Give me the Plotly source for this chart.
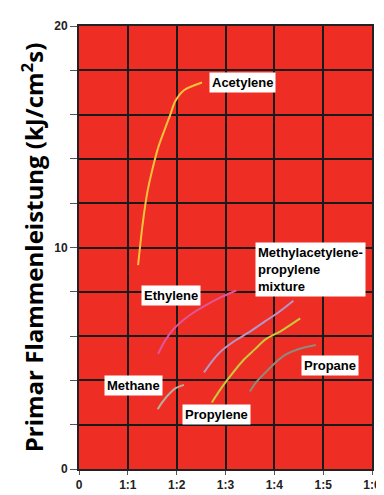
import plotly.graph_objects as go

# x = fuel:oxygen ratio position (0 .. 6 -> "0", "1:1" ... "1:6"), y = kJ/cm2s
acetylene_x = [1.21, 1.30, 1.40, 1.50, 1.62, 1.75, 1.87, 1.97, 2.15, 2.52]
acetylene_y = [9.2, 11.0, 12.5, 13.5, 14.5, 15.3, 16.0, 16.6, 17.1, 17.45]

ethylene_x = [1.62, 1.75, 1.93, 2.15, 2.37, 2.60, 2.90, 3.22]
ethylene_y = [5.2, 5.75, 6.3, 6.75, 7.1, 7.4, 7.75, 8.06]

mix_x = [2.56, 2.72, 2.90, 3.20, 3.50, 3.80, 4.10, 4.39]
mix_y = [4.36, 4.85, 5.3, 5.8, 6.2, 6.65, 7.1, 7.6]

propylene_x = [2.72, 2.85, 3.03, 3.36, 3.60, 3.82, 4.15, 4.53]
propylene_y = [3.0, 3.45, 4.0, 4.9, 5.4, 5.85, 6.25, 6.8]

propane_x = [3.50, 3.62, 3.82, 4.02, 4.22, 4.50, 4.85]
propane_y = [3.5, 3.9, 4.36, 4.8, 5.15, 5.42, 5.6]

methane_x = [1.61, 1.70, 1.83, 1.98, 2.15]
methane_y = [2.7, 3.0, 3.35, 3.65, 3.8]

series = [
    ("Acetylene", acetylene_x, acetylene_y, "#F7C33C"),
    ("Ethylene", ethylene_x, ethylene_y, "#E0559A"),
    ("Methylacetylene-propylene mixture", mix_x, mix_y, "#B596C8"),
    ("Propylene", propylene_x, propylene_y, "#C9C83A"),
    ("Propane", propane_x, propane_y, "#8E8A7E"),
    ("Methane", methane_x, methane_y, "#B8AE9E"),
]

label_text = ["Acetylene", "Ethylene", "Methylacetylene-<br>propylene<br>mixture",
              "Propane", "Methane", "Propylene"]
label_x = [3.34, 1.88, 4.74, 5.13, 1.12, 2.82]
label_y = [17.45, 7.82, 9.0, 4.67, 3.79, 2.47]

x_tickvals = [0, 1, 2, 3, 4, 5, 6]
x_ticktext = ["0", "1:1", "1:2", "1:3", "1:4", "1:5", "1:6"]
y_tickvals = [0, 2, 4, 6, 8, 10, 12, 14, 16, 18, 20]
y_ticktext = ["0", "", "", "", "", "10", "", "", "", "", "20"]

fig = go.Figure()
for name, xs, ys, color in series:
    fig.add_trace(go.Scatter(x=xs, y=ys, mode="lines", name=name,
                             line={"color": color, "width": 2, "shape": "spline",
                                   "smoothing": 0.8}))

for text, lx, ly in zip(label_text, label_x, label_y):
    fig.add_annotation(
        x=lx, y=ly, text=text, showarrow=False, align="left",
        bgcolor="white", borderpad=2,
        font={"family": "Liberation Sans, Arial, sans-serif", "size": 13,
              "color": "black", "weight": "bold"},
    )

fig.update_layout(
    width=384,
    height=495,
    showlegend=False,
    margin={"l": 71, "r": 11, "t": 17, "b": 24},
    plot_bgcolor="#EE2E24",
    paper_bgcolor="white",
    font={"family": "Liberation Sans, Arial, sans-serif", "size": 12, "color": "#222"},
)
fig.update_xaxes(
    range=[0, 6], tickvals=x_tickvals, ticktext=x_ticktext,
    showgrid=True, gridcolor="#1a1a1a", gridwidth=1.5,
    showline=True, linecolor="#222", linewidth=2, mirror=True,
    ticks="outside", ticklen=4, tickcolor="#555",
    tickfont={"size": 12, "weight": "bold"}, zeroline=False,
)
fig.update_yaxes(
    range=[0, 20], tickvals=y_tickvals, ticktext=y_ticktext,
    showgrid=True, gridcolor="#1a1a1a", gridwidth=1.5,
    showline=True, linecolor="#222", linewidth=2, mirror=True,
    ticks="outside", ticklen=7, tickcolor="#555",
    tickfont={"size": 12, "weight": "bold"}, zeroline=False,
    title={"text": "Primar Flammenleistung (kJ/cm<sup>2</sup>s)", "standoff": 4,
           "font": {"family": "Open Sans, sans-serif", "size": 24,
                    "color": "black", "weight": "bold"}},
)

fig.write_html("out.html")
